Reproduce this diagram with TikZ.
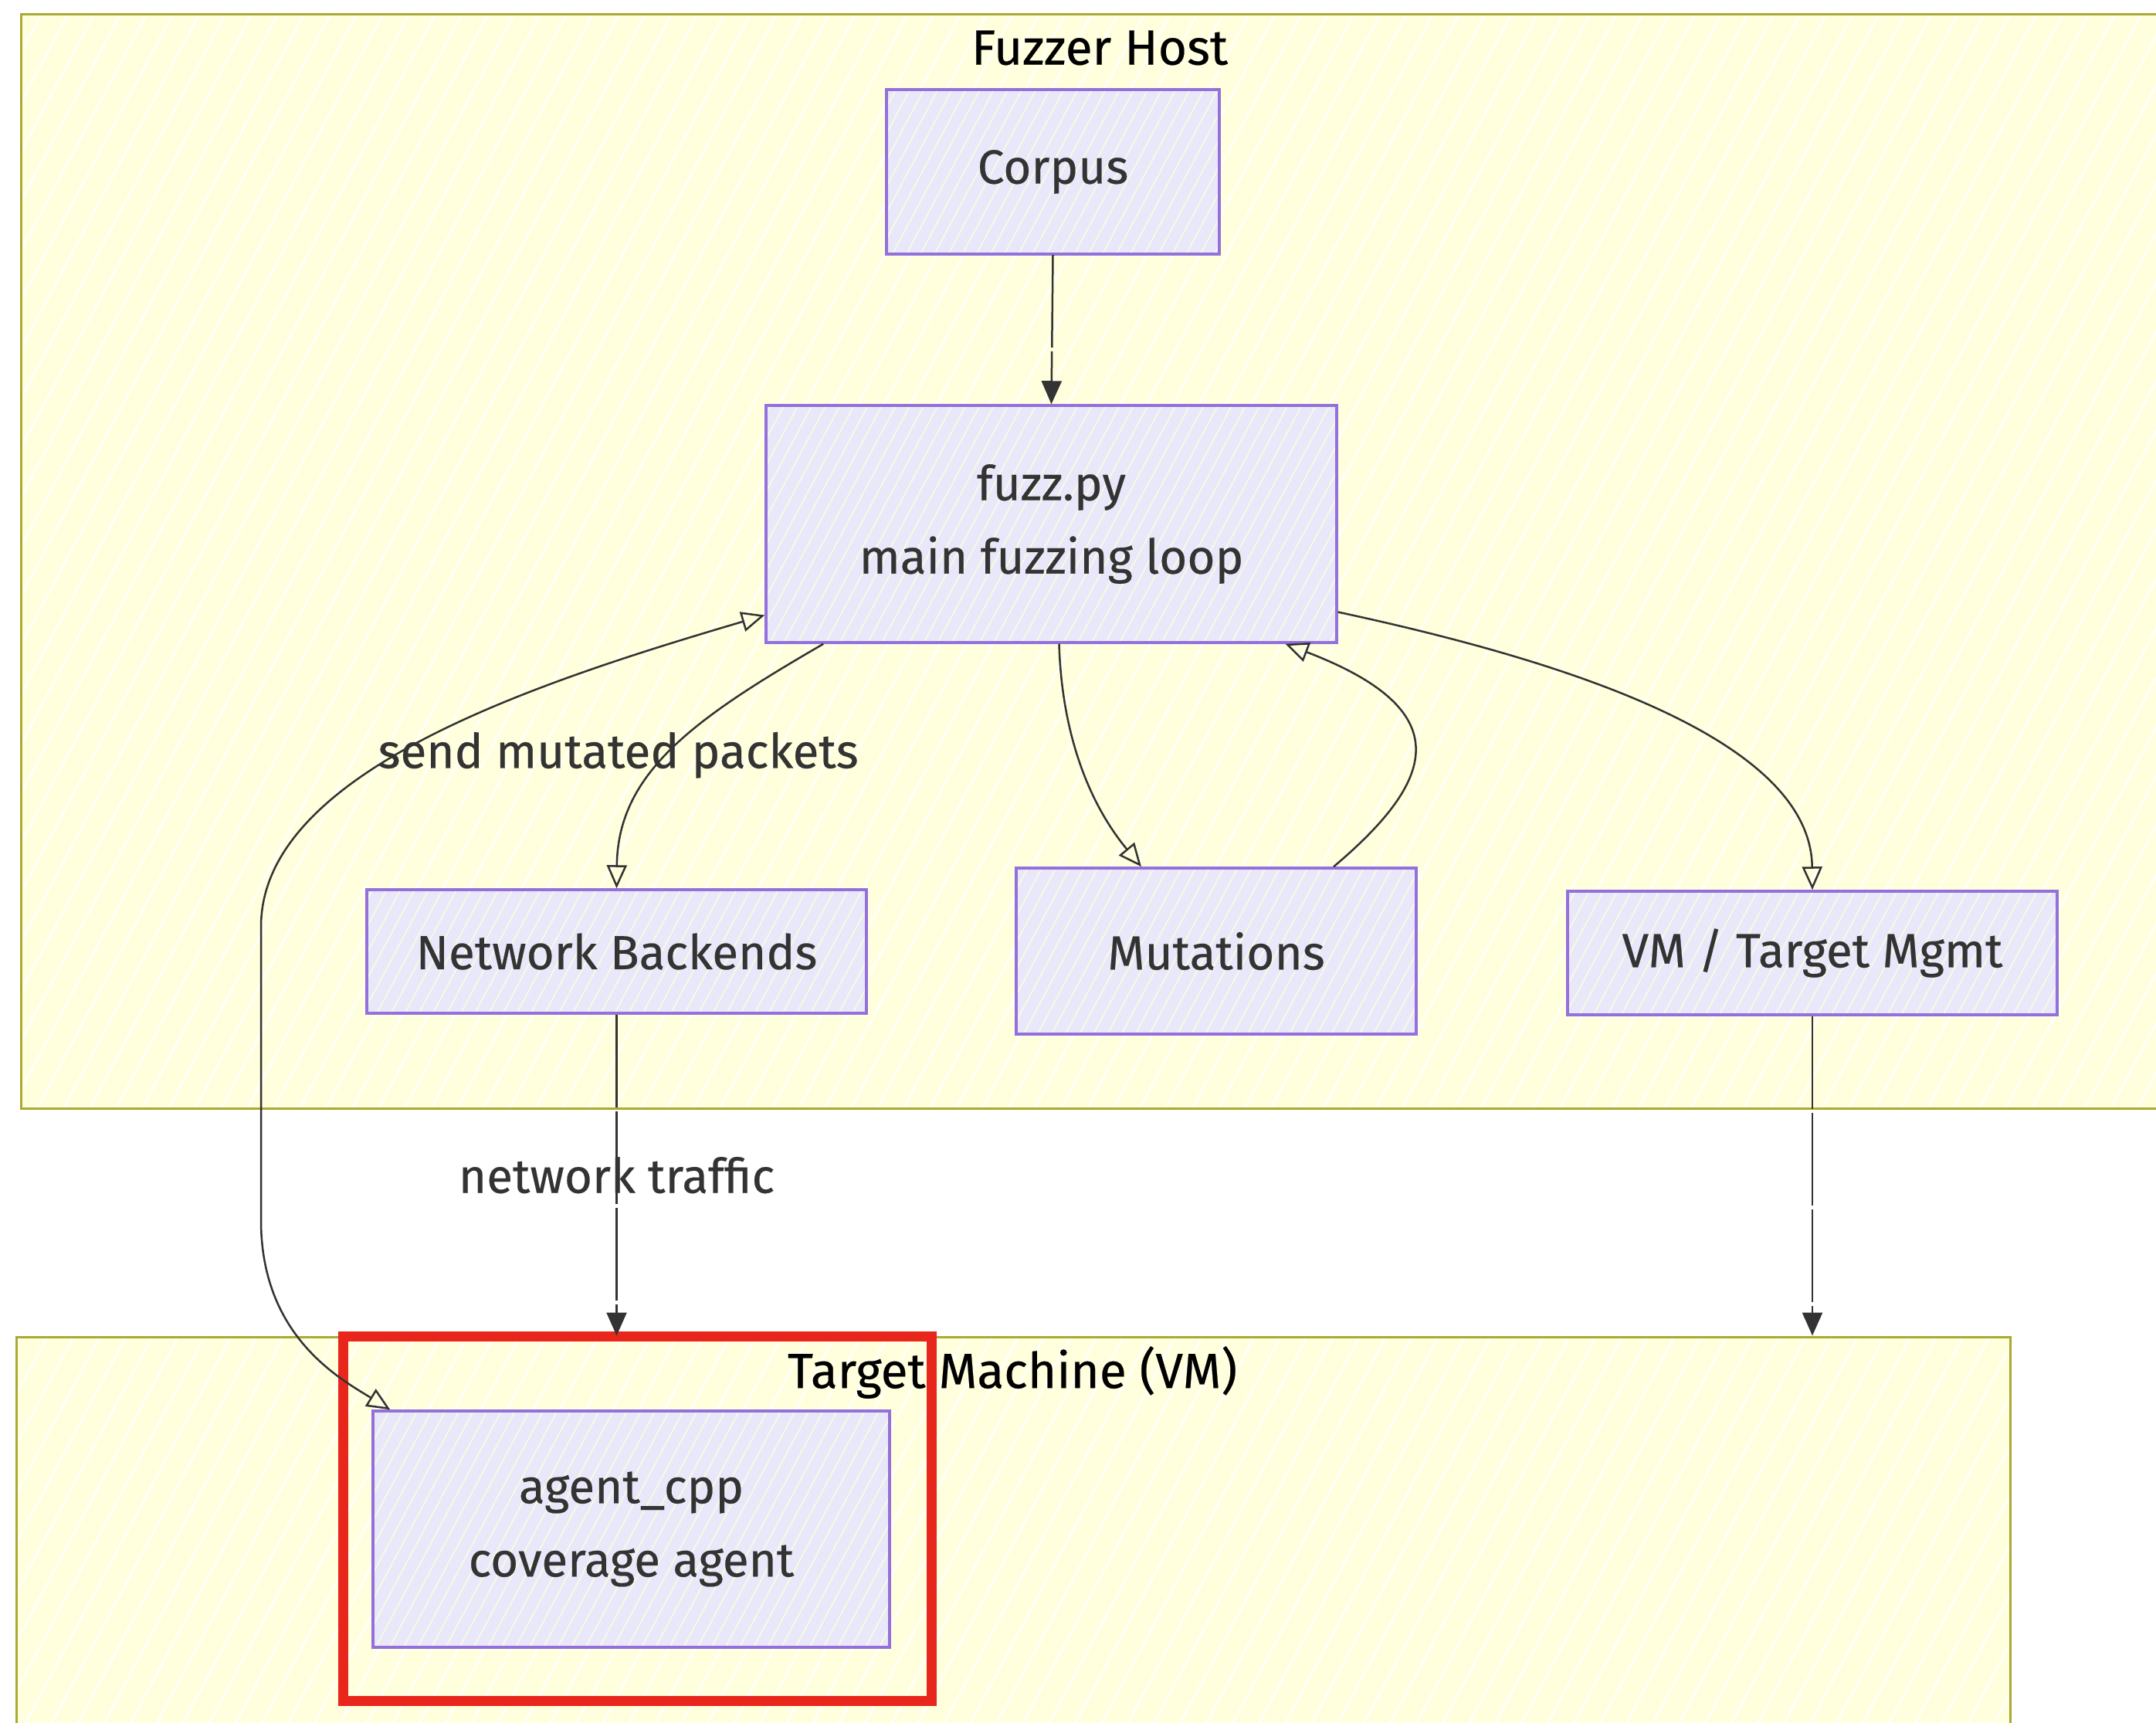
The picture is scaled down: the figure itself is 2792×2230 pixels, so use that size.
\documentclass[tikz,border=0pt]{standalone}
\usepackage{fontspec}
\setmainfont{Fira Sans}[FakeBold=0.35]
\usepackage{tikz}
\usetikzlibrary{positioning}
\usetikzlibrary{calc}
\usetikzlibrary{arrows.meta}
\usetikzlibrary{patterns.meta}

\definecolor{hostFill}{HTML}{FFFFDE}
\definecolor{hostLine}{HTML}{AAAA33}
\definecolor{boxFill}{HTML}{E8E8FA}
\definecolor{boxHatch}{HTML}{F8F8E4}
\definecolor{boxLine}{HTML}{9370DB}
\definecolor{inkGray}{HTML}{333333}
\definecolor{markRed}{HTML}{E8261B}

\tikzset{
	cluster/.style={
		draw=hostLine,
		line width=3pt,
		preaction={fill=hostFill},
		pattern={Lines[angle=62,distance=30pt,line width=2.5pt]},
		pattern color=white,
		inner sep=0pt
	},
	block/.style={
		draw=boxLine,
		line width=3.5pt,
		preaction={fill=boxFill},
		pattern={Lines[angle=62,distance=16pt,line width=2pt]},
		pattern color=boxHatch,
		text=inkGray,
		align=center
	},
	link/.style={draw=inkGray, line width=2.5pt},
	solidhead/.style={-{Triangle[length=30pt,width=26pt]}},
	openhead/.style={-{Triangle[open,length=30pt,width=26pt]}},
	roughline/.style={dash pattern=on 120pt off 5pt}
}

\begin{document}
\begin{tikzpicture}[x=1pt, y=-1pt, font=\fontsize{62}{95}\selectfont]

\useasboundingbox (0,0) rectangle (2792,2230);
\fill[white] (0,0) rectangle (2792,2230);
\clip (0,0) rectangle (2792,2230);

% groups
\node[
	cluster,
	minimum width=2794pt,
	minimum height=1417pt
] (host) at (1424,726.5) {};

\node[text=black, font=\fontsize{64}{95}\selectfont] (hostTitle) at (1424,62) {Fuzzer Host};

\node[
	cluster,
	minimum width=2582pt,
	minimum height=569pt
] (target) at (1312,2015.5) {};

\node[text=black, font=\fontsize{64}{95}\selectfont] (targetTitle) at (1311,1777) {Target Machine (VM)};

% blocks
\node[
	block,
	minimum width=431pt,
	minimum height=213pt
] (corpus) at (1363.5,222.5) {Corpus};

\node[
	block,
	minimum width=739pt,
	minimum height=307pt
] (fuzz) at (1361.5,678.5) {fuzz.py\\main fuzzing loop};

\node[
	block,
	minimum width=647pt,
	minimum height=160pt
] (backends) at (798.5,1232) {Network Backends};

\node[
	block,
	minimum width=518pt,
	minimum height=215pt
] (mutations) at (1575,1231.5) {Mutations};

\node[
	block,
	minimum width=634pt,
	minimum height=160pt
] (vmMgmt) at (2347,1234) {VM / Target Mgmt};

\node[
	block,
	minimum width=669pt,
	minimum height=306pt
] (agent) at (817.5,1980) {agent\_cpp\\coverage agent};

\node[
	draw=markRed,
	line width=13pt,
	inner sep=0pt,
	minimum width=762pt,
	minimum height=472pt
] (highlight) at (825,1966) {};

% ---

\draw[link, solidhead, roughline] (corpus.south) -- (fuzz.north);

\draw[link, openhead] ([xshift=76pt]fuzz.south west)
	.. controls (900,930) and (800,1000) .. (backends.north)
	node[pos=0.5, xshift=-70pt, yshift=-6pt, text=inkGray]{send mutated packets};

\draw[link, openhead] ([xshift=10pt]fuzz.south)
	.. controls (1375,950) and (1410,1040) .. ([xshift=-97pt]mutations.north);

\draw[link, openhead] ([xshift=152pt]mutations.north)
	.. controls (1860,1010) and (1890,920) .. ([xshift=303pt]fuzz.south);

\draw[link, openhead] ([yshift=-114pt]fuzz.east)
	.. controls (2000,850) and (2345,950) .. (vmMgmt.north);

\draw[link, {Triangle[open,length=30pt,width=26pt]}-{Triangle[open,length=30pt,width=26pt]}]
	([yshift=-118pt]fuzz.west) .. controls (690,885) and (338,1000) .. (338,1200)
	-- (338,1580) .. controls (338,1730) and (440,1785) .. ([xshift=24pt]agent.north west);

\draw[link, solidhead, roughline] (backends.south) -- (backends.south |- target.north)
	node[midway, text=inkGray]{network traffic};

\draw[link, solidhead, roughline] (vmMgmt.south) -- (vmMgmt.south |- target.north);

\end{tikzpicture}
\end{document}
